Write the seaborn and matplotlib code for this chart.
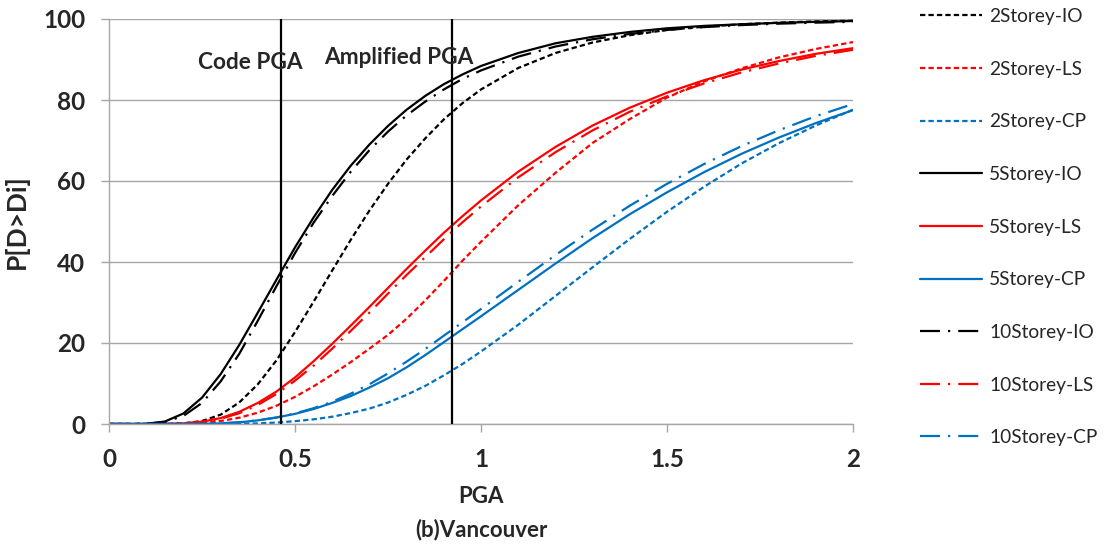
import matplotlib
matplotlib.use("Agg")
import matplotlib.pyplot as plt
import seaborn as sns
import pandas as pd

# ---- data ----
pga = [0, 0.05, 0.10, 0.15, 0.20, 0.25, 0.30, 0.35, 0.40, 0.45, 0.50,
       0.55, 0.60, 0.65, 0.70, 0.75, 0.80, 0.85, 0.90, 0.95, 1.0,
       1.1, 1.2, 1.3, 1.4, 1.5, 1.6, 1.7, 1.8, 1.9, 2.0]

s2_io = [0, 0, 0, 0.01, 0.15, 0.74, 2.3, 5.3, 9.8, 15.7, 22.7, 30.2, 37.9, 45.5, 52.7,
         59.3, 65.3, 70.5, 75.2, 79.2, 82.6, 87.9, 91.6, 94.2, 96.0, 97.3, 98.1, 98.7,
         99.1, 99.4, 99.56]
s2_ls = [0, 0, 0, 0, 0.05, 0.28, 0.74, 1.55, 2.8, 4.5, 6.7, 9.3, 12.2, 15.3, 18.6,
         22.0, 26.0, 30.5, 35.3, 40.3, 45.0, 54.0, 62.0, 69.4, 75.3, 80.6, 84.6, 87.8,
         90.5, 92.6, 94.3]
s2_cp = [0, 0, 0, 0, 0, 0, 0.02, 0.06, 0.15, 0.35, 0.7, 1.15, 1.8, 2.7, 3.8,
         5.3, 7.2, 9.4, 12.0, 14.8, 17.9, 24.5, 31.6, 38.7, 45.7, 52.4, 58.6, 64.3,
         69.3, 73.7, 77.6]
s5_io = [0, 0, 0.05, 0.6, 2.6, 6.5, 12.3, 19.5, 27.5, 35.6, 43.6, 51.0, 57.8, 63.8, 69.0,
         73.6, 77.6, 81.0, 83.9, 86.3, 88.4, 91.6, 94.0, 95.6, 96.8, 97.7, 98.3, 98.7,
         99.05, 99.3, 99.5]
s5_ls = [0, 0, 0, 0.02, 0.15, 0.57, 1.46, 3.0, 5.2, 8.0, 11.5, 15.5, 19.8, 24.3, 28.9,
         33.6, 38.3, 42.8, 47.2, 51.3, 55.2, 62.3, 68.4, 73.7, 78.1, 81.8, 84.9, 87.5,
         89.6, 91.4, 92.8]
s5_cp = [0, 0, 0, 0, 0.02, 0.06, 0.15, 0.4, 0.9, 1.6, 2.5, 3.7, 5.2, 6.9, 9.0,
         11.3, 14.0, 17.0, 20.2, 23.4, 26.6, 33.1, 39.6, 45.9, 51.8, 57.2, 62.2, 66.7,
         70.7, 74.3, 77.5]
s10_io = [0, 0, 0.05, 0.5, 2.0, 5.2, 10.5, 17.3, 25.5, 34.0, 42.2, 49.7, 56.3, 62.3, 67.6,
          72.2, 76.2, 79.6, 82.6, 85.2, 87.3, 90.7, 93.2, 95.0, 96.3, 97.3, 98.0, 98.5,
          98.85, 99.1, 99.3]
s10_ls = [0, 0, 0, 0.02, 0.13, 0.49, 1.28, 2.66, 4.7, 7.4, 10.7, 14.4, 18.6, 23.0, 27.5,
          32.2, 36.8, 41.2, 45.6, 49.8, 53.7, 60.9, 67.1, 72.5, 77.1, 80.9, 84.1, 86.8,
          89.0, 90.9, 92.4]
s10_cp = [0, 0, 0, 0, 0.02, 0.06, 0.17, 0.42, 0.9, 1.6, 2.6, 3.9, 5.5, 7.5, 9.8,
          12.5, 15.4, 18.5, 21.8, 25.1, 28.4, 35.1, 41.7, 48.0, 53.9, 59.3, 64.2, 68.6,
          72.5, 76.0, 79.0]

series_labels = ["2Storey-IO", "2Storey-LS", "2Storey-CP",
                 "5Storey-IO", "5Storey-LS", "5Storey-CP",
                 "10Storey-IO", "10Storey-LS", "10Storey-CP"]
series_values = [s2_io, s2_ls, s2_cp, s5_io, s5_ls, s5_cp, s10_io, s10_ls, s10_cp]

code_pga = 0.462
amplified_pga = 0.922
x_ticks = [0, 0.5, 1, 1.5, 2]
x_ticklabels = ["0", "0.5", "1", "1.5", "2"]
y_ticks = [0, 20, 40, 60, 80, 100]

# ---- styling ----
sns.set_theme(style="white")
plt.rcParams["font.family"] = ["Lato", "DejaVu Sans"]

BLACK, RED, BLUE = "#000000", "#FF0000", "#0070C0"
colors = [BLACK, RED, BLUE] * 3
dashed = (0, (2.4, 1.4))
dashdot = (0, (9.0, 3.6, 1.0, 3.6))
styles = [dashed] * 3 + ["-"] * 3 + [dashdot] * 3

fig = plt.figure(figsize=(11.15, 5.52), dpi=100)
ax = fig.add_axes([109 / 1115, 1 - 424 / 552, (853 - 109) / 1115, (424 - 19) / 552])

for lab, vals, c, ls in zip(series_labels, series_values, colors, styles):
    df = pd.DataFrame({"PGA": pga, "P": vals})
    sns.lineplot(data=df, x="PGA", y="P", ax=ax, color=c, linestyle=ls,
                 linewidth=1.6, label=lab, legend=False)

ax.axvline(code_pga, color="black", linewidth=1.6, zorder=3)
ax.axvline(amplified_pga, color="black", linewidth=1.6, zorder=3)

ax.set_xlim(0, 2)
ax.set_ylim(0, 100)
ax.set_xticks(x_ticks)
ax.set_xticklabels(x_ticklabels)
ax.set_yticks(y_ticks)

grid_c = "#A6A6A6"
ax.yaxis.grid(True, color=grid_c, linewidth=1.0)
ax.xaxis.grid(False)
for s in ["top", "right"]:
    ax.spines[s].set_visible(False)
for s in ["left", "bottom"]:
    ax.spines[s].set_color(grid_c)
    ax.spines[s].set_linewidth(1.0)
ax.tick_params(axis="both", which="both", direction="out", length=6, width=1.0,
               color=grid_c, labelsize=17.5, bottom=True, left=True)
ax.tick_params(axis="x", pad=11)
ax.tick_params(axis="y", pad=11)
for t in ax.get_xticklabels() + ax.get_yticklabels():
    t.set_fontweight("bold")

ax.set_xlabel("PGA", fontsize=16, fontweight="bold", labelpad=11)
ax.set_ylabel("P[D>Di]", fontsize=19, fontweight="bold", labelpad=10)
fig.text(481 / 1115, 1 - 530 / 552, "(b)Vancouver", ha="center", va="center",
         fontsize=16, fontweight="bold")

ax.annotate("Code PGA", xy=(250 / 1115, 1 - 62 / 552), xycoords="figure fraction",
            ha="center", va="center", fontsize=16.3, fontweight="bold", zorder=5)
ax.annotate("Amplified PGA", xy=(399 / 1115, 1 - 58 / 552), xycoords="figure fraction",
            ha="center", va="center", fontsize=16.3, fontweight="bold", zorder=5)

handles, labels = ax.get_legend_handles_labels()
leg = ax.legend(handles, labels, loc="upper left",
                bbox_to_anchor=(920 / 1115, 1 - 8 / 552), bbox_transform=fig.transFigure,
                frameon=False, fontsize=13.8, handlelength=3.25, handletextpad=0.35,
                labelspacing=1.86, borderpad=0, borderaxespad=0)

fig.savefig("out.png", dpi=100)
